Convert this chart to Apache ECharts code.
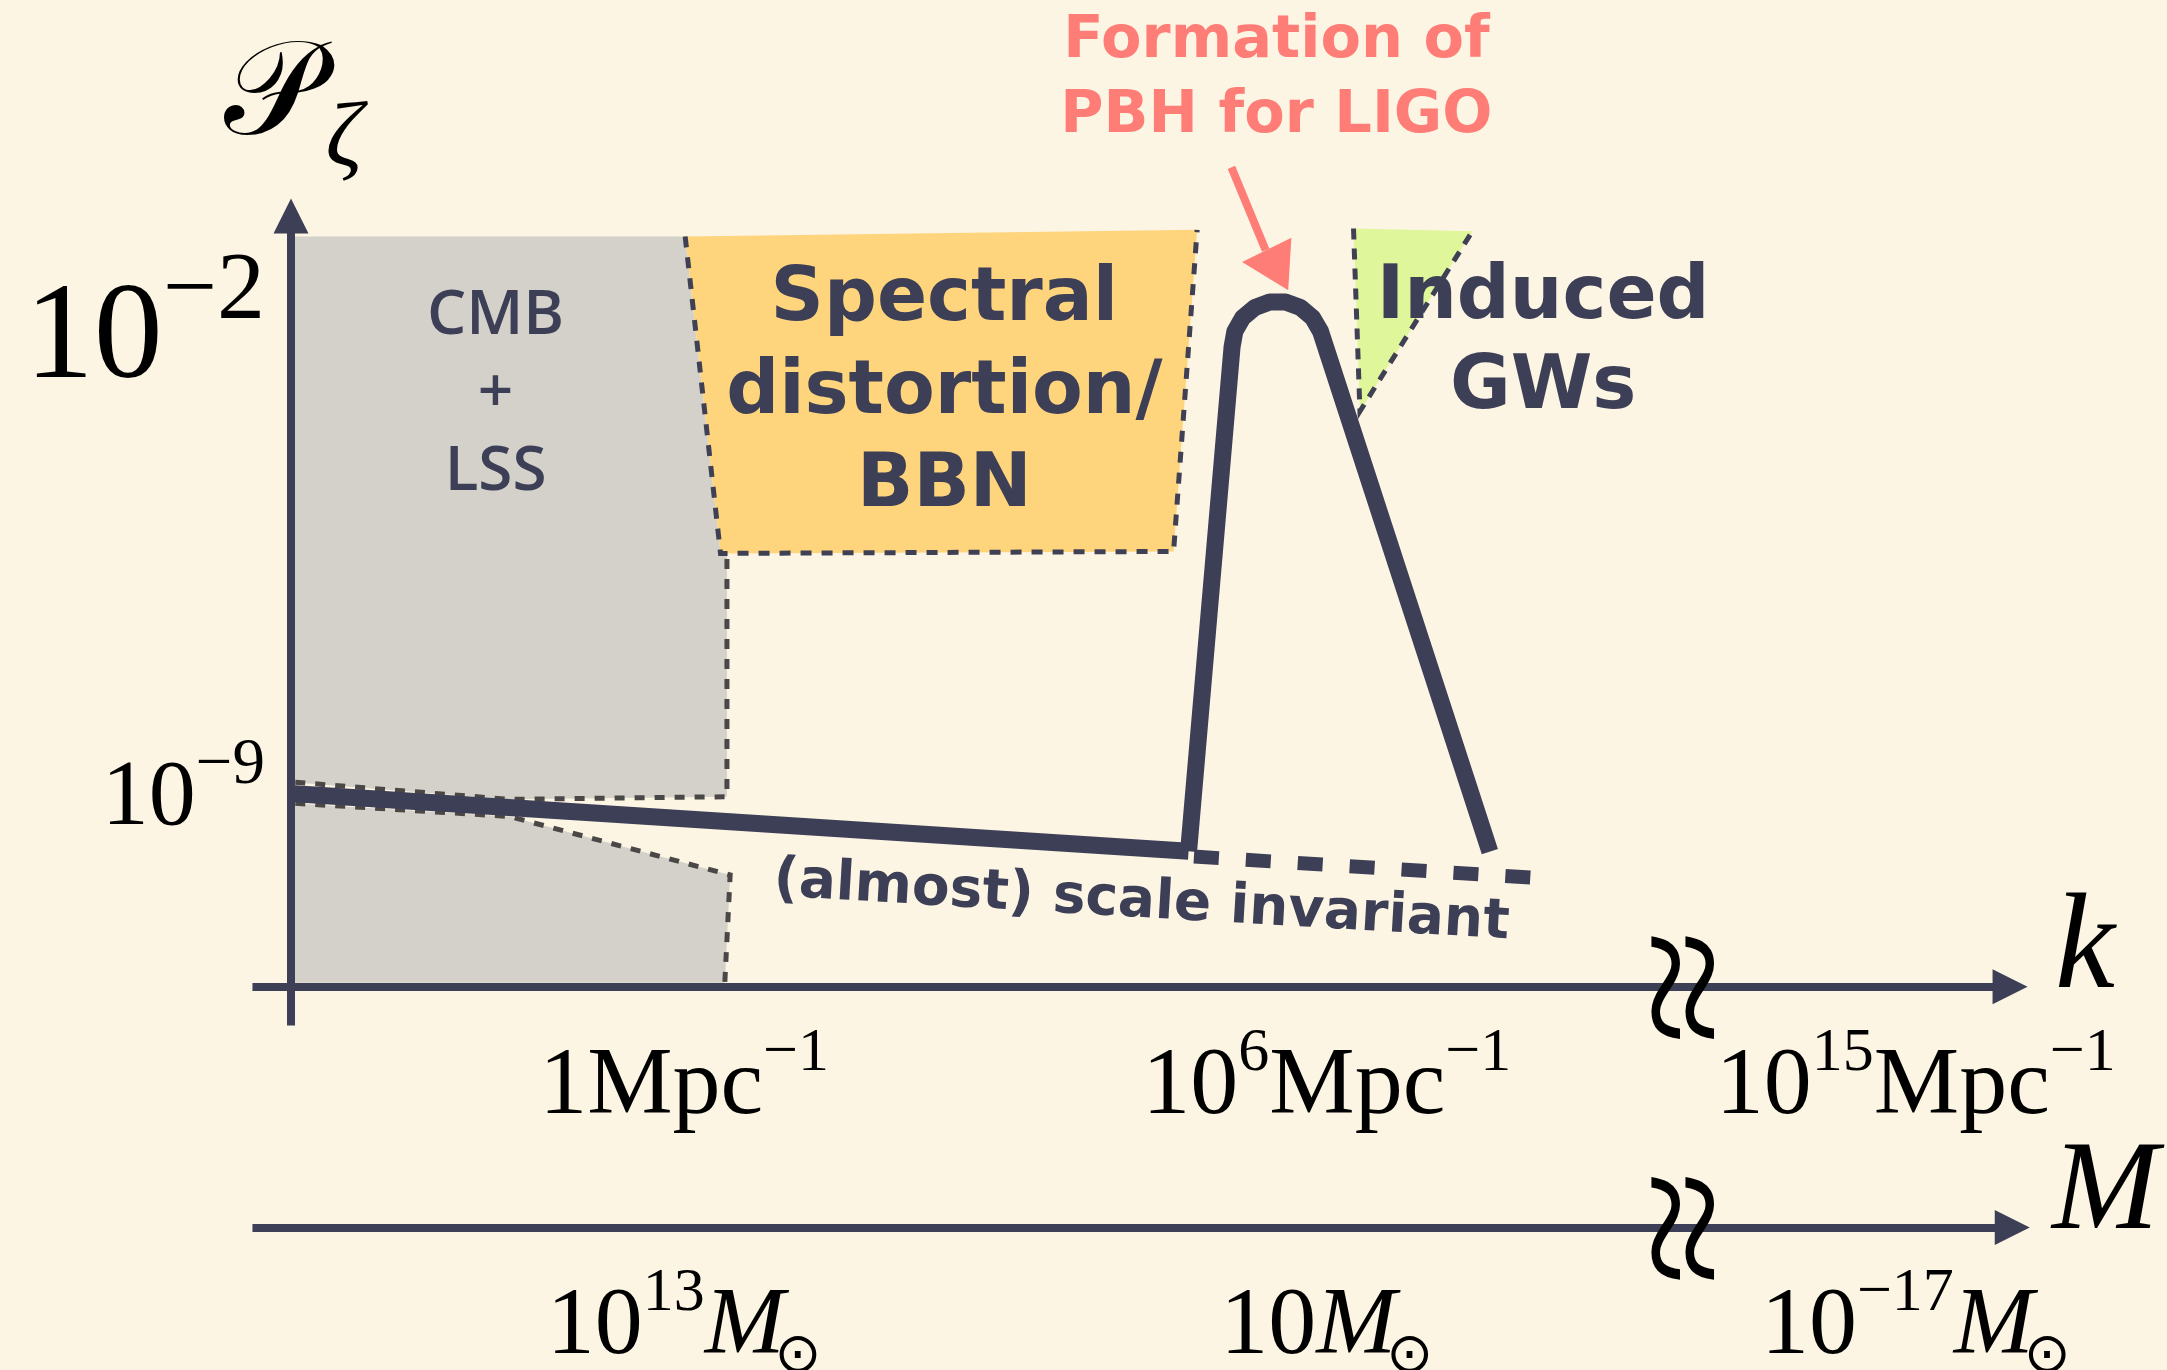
<!DOCTYPE html>
<html><head><meta charset="utf-8">
<script src="https://cdn.jsdelivr.net/npm/echarts@6/dist/echarts.min.js"></script>
<style>html,body{margin:0;padding:0;background:#fdf5e3;}#c{width:2167px;height:1370px;}</style>
</head><body><div id="c"></div>
<script>
// ===== DATA (schematic units: x = log10 k [Mpc^-1], y = log10 P_zeta) =====
const flatSpectrum = [[-3.67,-9.02],[4.71,-9.90]];
const pbhPeak = [[4.71,-9.90],[5.116,-2.231],[5.142,-1.994],[5.215,-1.786],[5.329,-1.630],[5.468,-1.548],[5.615,-1.548],[5.755,-1.630],[5.868,-1.786],[5.942,-1.994],[7.523,-9.904]];
const scaleInvExtension = [[4.76,-9.98],[7.91,-10.30]];

const cmbUpper = [[-3.67,-0.55],[0.01,-0.55],[0.34,-5.36],[0.40,-5.36],[0.40,-9.07],[-1.63,-9.11],[-3.67,-8.85]];
const cmbLower = [[-3.67,-9.17],[-1.63,-9.37],[0.43,-10.26],[0.38,-11.90],[-3.67,-11.90]];
const cmbUpperEdge = [[-3.63,-8.85],[-1.63,-9.11],[0.40,-9.07],[0.40,-5.36]];
const cmbLowerEdge = [[-3.63,-9.17],[-1.63,-9.37],[0.43,-10.26],[0.38,-11.90]];
const spectralRegion = [[0.01,-0.55],[4.79,-0.45],[4.57,-5.34],[0.34,-5.37]];
const spectralEdge = [[0.01,-0.55],[0.34,-5.37],[4.57,-5.34],[4.79,-0.45]];
const gwRegion = [[6.25,-0.43],[7.36,-0.47],[6.31,-3.21]];
const gwEdge = [[6.25,-0.43],[6.31,-3.21],[7.36,-0.47]];

const pbhArrowShaft = [[5.11,0.50],[5.43,-0.76]];
const pbhArrowHead = [[5.21,-0.94],[5.67,-0.57],[5.64,-1.37]];

const axisP = [[-3.67,-12.55],[-3.67,-0.24]];
const axisK = [[-4.03,-11.96],[12.38,-11.96]];
const axisM = [[-4.03,-15.62],[12.40,-15.62]];
const axisBreakX = 9.30;

const kTickPos = [0, 6, 11.5];          // 10^15 sits past the axis break
const kTickLabels = [
  [['1Mpc','n'],['\u22121','sup']],
  [['10','n'],['6','sup'],['Mpc','n'],['\u22121','sup']],
  [['10','n'],['15','sup'],['Mpc','n'],['\u22121','sup']]
];
const mTickLabels = [
  [['10','n'],['13','sup'],['M','it'],['\u2299','sub']],
  [['10','n'],['M','it'],['\u2299','sub']],
  [['10','n'],['\u221217','sup'],['M','it'],['\u2299','sub']]
];
const pTickPos = [-2, -9];
const pTickLabels = [
  [['10','n'],['\u22122','sup']],
  [['10','n'],['\u22129','sup']]
];

const regionLabels = ['CMB\n+\nLSS', 'Spectral\ndistortion/\nBBN', 'Induced\nGWs'];
const regionLabelAt = [[-1.76,-2.95],[2.43,-2.95],[8.02,-2.19]];
const annotationText = 'Formation of\nPBH for LIGO';
const annotationAt = [5.53, 1.84];
const curveLabel = '(almost) scale invariant';
const curveLabelAt = [4.27, -10.68];
const axisNames = ['k', 'M'];
const axisNameAt = [[13.08,-11.43],[13.27,-15.11]];
const pNameAt = [[-3.84,1.53],[-3.175,0.90]];

// ===== VIEW / STYLE =====
const X_VIEW = [-6.387, 13.845], Y_VIEW = [-17.787, 3.045];
const BG='#fdf5e3', INK='#3d3f57', GREY='#d4d1ca', ORANGE='#fed57c', GREEN='#e0f69a', PINK='#ff7d77';
const SERIF='"Liberation Serif"', SANS='"DejaVu Sans"';

const mctx = document.createElement('canvas').getContext('2d');
function fontStr(f){ return (f.style||'normal')+' '+(f.weight||'normal')+' '+f.size+'px '+f.family; }
function midOffset(fs){ mctx.font=fs; mctx.textBaseline='middle'; const d=mctx.measureText('H').actualBoundingBoxDescent; mctx.textBaseline='alphabetic'; return d; }
function layoutSegments(segs, fonts, x, baseline, align){
  const parts = segs.map(([t,k])=>{ const f=fonts[k]; const fs=fontStr(f); mctx.font=fs; return {t,f,fs,w:mctx.measureText(t).width}; });
  const W = parts.reduce((s,p)=>s+p.w+(p.f.kern||0),0);
  let cx = align==='center'? x-W/2 : align==='right'? x-W : x;
  return parts.map(p=>{
    cx += (p.f.kern||0);
    const el={type:'text', x:cx, y:baseline+(p.f.dy||0)-midOffset(p.fs),
      style:{text:p.t, fill:p.f.color||'#000', fontSize:p.f.size, fontFamily:p.f.family,
        fontStyle:p.f.style||'normal', fontWeight:p.f.weight||'normal', align:'left', verticalAlign:'middle'}};
    cx += p.w; return el;
  });
}
const TICK_FONTS = {
  n:{size:96,family:SERIF}, sup:{size:62,family:SERIF,dy:-43},
  it:{size:96,family:SERIF,style:'italic'}, sub:{size:56,family:SANS,dy:20,kern:-10}
};
const P_TICK_FONTS = [
  {n:{size:138,family:SERIF}, sup:{size:96,family:SERIF,dy:-60}},
  {n:{size:94,family:SERIF}, sup:{size:65,family:SERIF,dy:-41}}
];

function polygon(pts, fill, z){
  return {type:'custom', coordinateSystem:'cartesian2d', silent:true, z, data:[pts[0]], encode:{x:0,y:1},
    renderItem:(p,api)=>({type:'polygon', shape:{points:pts.map(q=>api.coord(q))}, style:{fill}})};
}
function line(data, color, width, dash, z, join){
  return {type:'line', data, symbol:'none', showSymbol:false, silent:true, z, clip:false,
    lineStyle:{color, width, type:dash||'solid', cap:'butt', join:join||'miter', opacity:1}};
}
function arrowAxis(coords){
  return {type:'lines', coordinateSystem:'cartesian2d', silent:true, z:4,
    symbol:['none','triangle'], symbolSize:35,
    lineStyle:{color:INK, width:8, opacity:1, curveness:0},
    data:[{coords}]};
}
function layer(points, render, z){
  return {type:'custom', coordinateSystem:'cartesian2d', silent:true, z:z||8, data:points, encode:{x:0,y:1},
    renderItem:(params,api)=>render(params.dataIndex, api.coord([api.value(0),api.value(1)]))};
}

const series = [
  polygon(cmbUpper, GREY, 1), polygon(cmbLower, GREY, 1),
  polygon(spectralRegion, ORANGE, 1), polygon(gwRegion, GREEN, 1),
  line(cmbUpperEdge, '#4a4846', 5, [10,10], 2),
  line(cmbLowerEdge, '#4a4846', 5, [10,10], 2),
  line(spectralEdge, '#3f4054', 5, [11,10], 2),
  line(gwEdge, '#3f4054', 5, [11,9], 2),
  arrowAxis(axisP), arrowAxis(axisK), arrowAxis(axisM),
  line(flatSpectrum, INK, 17, 'solid', 5),
  line(pbhPeak, INK, 17, 'solid', 5, 'round'),
  line(scaleInvExtension, INK, 14, [25,27], 5),
  line(pbhArrowShaft, PINK, 8, 'solid', 5),
  polygon(pbhArrowHead, PINK, 5),
  // axis breaks
  layer([[axisBreakX, axisK[0][1]],[axisBreakX, axisM[0][1]]], (i,p)=>({type:'text', x:p[0]+14, y:p[1], rotation:Math.PI/2, scaleX:1.25,
    style:{text:'\u2248', fontSize:170, fontFamily:SERIF, fill:'#000', align:'center', verticalAlign:'middle'}}), 6),
  // k ticks
  layer(kTickPos.map(u=>[u, axisK[0][1]]), (i,p)=>({type:'group', children:layoutSegments(kTickLabels[i], TICK_FONTS, p[0], p[1]+126, 'center')})),
  layer(kTickPos.map(u=>[u, axisM[0][1]]), (i,p)=>({type:'group', children:layoutSegments(mTickLabels[i], TICK_FONTS, p[0], p[1]+126, 'center')})),
  layer(pTickPos.map(v=>[axisP[0][0], v]), (i,p)=>({type:'group', children:layoutSegments(pTickLabels[i], P_TICK_FONTS[i], p[0]-26, p[1]+0.338*P_TICK_FONTS[i].n.size, 'right')})),
  // region labels
  layer(regionLabelAt, (i,p)=>({type:'text', x:p[0], y:p[1], style:{text:regionLabels[i], fill:INK,
    fontSize:i===0?62:74, fontWeight:i===0?600:'bold', fontFamily:i===0?'"Open Sans"':SANS, lineHeight:i===0?78:(i===1?93:90),
    align:'center', verticalAlign:'middle'}})),
  layer([annotationAt], (i,p)=>({type:'text', x:p[0], y:p[1], style:{text:annotationText, fill:PINK,
    fontSize:59, fontWeight:'bold', fontFamily:SANS, lineHeight:75, align:'center', verticalAlign:'middle'}})),
  layer([curveLabelAt], (i,p)=>({type:'text', x:p[0], y:p[1], rotation:-0.0584, style:{text:curveLabel, fill:INK,
    fontSize:55, fontWeight:'bold', fontFamily:SANS, align:'center', verticalAlign:'middle'}})),
  layer(axisNameAt, (i,p)=>({type:'text', x:p[0], y:p[1], style:{text:axisNames[i], fill:'#000',
    fontSize:i===0?135:128, fontStyle:'italic', fontFamily:SERIF, align:'center', verticalAlign:'middle'}})),
  layer(pNameAt, (i,p)=>({type:'text', x:p[0], y:p[1], style:{text:i===0?'\u{1D4AB}':'\u03B6', fill:'#000',
    fontSize:i===0?134:92, fontStyle:i===0?'normal':'italic', fontFamily:i===0?'"DejaVu Serif", "DejaVu Sans", "Noto Sans", serif':SERIF,
    align:'center', verticalAlign:'middle'}}))
];

const chart = echarts.init(document.getElementById('c'), null, {renderer:'canvas', width:2167, height:1370});
chart.setOption({
  backgroundColor: BG, animation:false,
  grid:{left:0,right:0,top:0,bottom:0},
  xAxis:{type:'value', min:X_VIEW[0], max:X_VIEW[1], show:false},
  yAxis:{type:'value', min:Y_VIEW[0], max:Y_VIEW[1], show:false},
  series
});
</script></body></html>
